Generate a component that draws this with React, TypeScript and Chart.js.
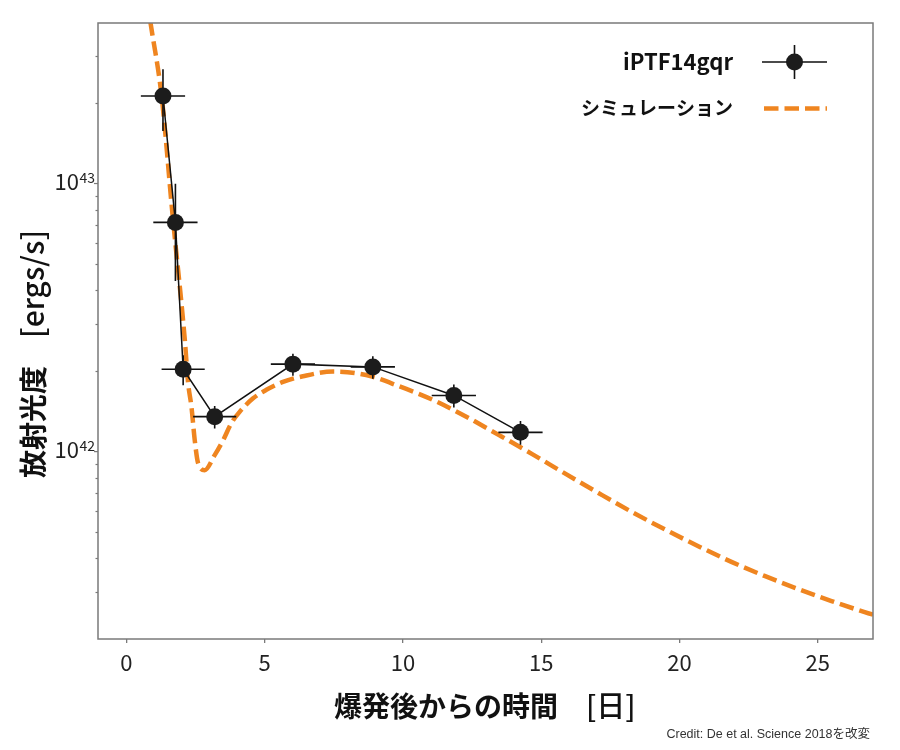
import React, { useEffect, useRef } from 'react';
import { Chart, registerables } from 'chart.js';

Chart.register(...registerables);

// Observed luminosity of iPTF14gqr
const obsDays = [1.32, 1.77, 2.05, 3.19, 6.02, 8.91, 11.84, 14.25];
const obsDayErr = [0.8, 0.8, 0.78, 0.78, 0.8, 0.8, 0.8, 0.8];
const obsLum = [2.12e43, 7.16e42, 2.03e42, 1.35e42, 2.12e42, 2.07e42, 1.62e42, 1.18e42];
const obsLumErr = [5.5e42, 2.83e42, 0.26e42, 0.13e42, 0.2e42, 0.2e42, 0.16e42, 0.12e42];

// Simulation curve
const simDays = [0.75, 0.87, 1.27, 1.66, 2.11, 2.23, 2.35, 2.47, 2.59, 2.83, 3.19, 3.49, 3.8, 4.1, 4.58, 5.06, 5.66, 6.38, 7.47, 8.67, 9.88, 11.08, 12.29, 13.49, 14.69, 15.9, 17.1, 18.3, 19.5, 20.7, 21.9, 23.1, 24.3, 25.5, 26.7, 27.2];
const simLum = [4.8e43, 3.97e43, 2.12e43, 7.76e42, 2.61e42, 1.8e42, 1.47e42, 1.1e42, 9.06e41, 8.53e41, 9.7e41, 1.1e42, 1.28e42, 1.41e42, 1.58e42, 1.7e42, 1.82e42, 1.91e42, 1.99e42, 1.93e42, 1.75e42, 1.56e42, 1.35e42, 1.15e42, 9.77e41, 8.24e41, 6.98e41, 5.94e41, 5.11e41, 4.43e41, 3.87e41, 3.43e41, 3.07e41, 2.77e41, 2.52e41, 2.43e41];

// Axes
const xMin = -1.03;
const xMax = 27;
const xStep = 5;
const yMin = 2.0e41;
const yMax = 3.97e43;
const yMajorTicks = [1e42, 1e43];
const yMajorExp = ['42', '43'];
const yMinorTicks = [3e41, 4e41, 5e41, 6e41, 7e41, 8e41, 9e41, 2e42, 3e42, 4e42, 5e42, 6e42, 7e42, 8e42, 9e42, 2e43, 3e43];

// Text
const obsLabel = 'iPTF14gqr';
const simLabel = 'シミュレーション';
const xTitleJa = '爆発後からの時間';
const xTitleUnit = '[日]';
const yTitleJa = '放射光度';
const yTitleUnit = '[ergs/s]';
const creditText = 'Credit: De et al. Science 2018を改変';

const ORANGE = '#ef8520';
const DARK = '#1c1c1c';
const FRAME = '#7a7a7a';
const JP = "'Noto Sans CJK JP', 'Noto Sans', sans-serif";

const customPlugin = {
  id: 'customDraw',
  beforeDatasetDraw(chart: any, args: any) {
    if (args.index !== 0) return;
    const { ctx } = chart;
    const x = chart.scales.x;
    const y = chart.scales.y;
    ctx.save();
    ctx.strokeStyle = '#111';
    ctx.lineWidth = 1.6;
    obsDays.forEach((d, i) => {
      const px = x.getPixelForValue(d);
      const py = y.getPixelForValue(obsLum[i]);
      const x0 = x.getPixelForValue(d - obsDayErr[i]);
      const x1 = x.getPixelForValue(d + obsDayErr[i]);
      const y0 = y.getPixelForValue(obsLum[i] - obsLumErr[i]);
      const y1 = y.getPixelForValue(obsLum[i] + obsLumErr[i]);
      ctx.beginPath();
      ctx.moveTo(x0, py);
      ctx.lineTo(x1, py);
      ctx.moveTo(px, y0);
      ctx.lineTo(px, y1);
      ctx.stroke();
    });
    ctx.restore();
  },
  afterDraw(chart: any) {
    const { ctx, chartArea } = chart;
    const y = chart.scales.y;
    const { left, top, right, bottom } = chartArea;
    ctx.save();
    // frame
    ctx.strokeStyle = FRAME;
    ctx.lineWidth = 1.5;
    ctx.strokeRect(left, top, right - left, bottom - top);

    // y ticks
    ctx.lineWidth = 1.2;
    yMinorTicks.forEach((v) => {
      const py = Math.round(y.getPixelForValue(v)) + 0.5;
      ctx.beginPath();
      ctx.moveTo(left, py);
      ctx.lineTo(left - 2.5, py);
      ctx.stroke();
    });
    yMajorTicks.forEach((v, i) => {
      const py = y.getPixelForValue(v);
      ctx.beginPath();
      ctx.moveTo(left, py);
      ctx.lineTo(left - 4, py);
      ctx.stroke();
      // label 10^n
      ctx.fillStyle = '#222';
      ctx.textAlign = 'right';
      ctx.textBaseline = 'alphabetic';
      ctx.font = `14px ${JP}`;
      const supW = ctx.measureText(yMajorExp[i]).width;
      ctx.fillText(yMajorExp[i], left - 3, py - 1);
      ctx.font = `22px ${JP}`;
      ctx.fillText('10', left - 3 - supW - 0.5, py + 6);
    });

    // x title
    ctx.fillStyle = '#111';
    ctx.textBaseline = 'middle';
    ctx.textAlign = 'left';
    ctx.font = `bold 28px ${JP}`;
    const xJaW = ctx.measureText(xTitleJa + '\u3000').width;
    ctx.fillText(xTitleJa + '\u3000', 334, 706);
    ctx.font = `500 29px ${JP}`;
    ctx.fillText(xTitleUnit, 334 + xJaW, 706);

    // y title
    ctx.save();
    ctx.translate(33, 478);
    ctx.rotate(-Math.PI / 2);
    ctx.font = `bold 28px ${JP}`;
    const yJaW = ctx.measureText(yTitleJa + '\u3000').width;
    ctx.fillText(yTitleJa + '\u3000', 0, 0);
    ctx.font = `500 30px ${JP}`;
    ctx.fillText(yTitleUnit, yJaW, 0);
    ctx.restore();

    // legend
    ctx.textAlign = 'right';
    ctx.textBaseline = 'middle';
    ctx.fillStyle = '#111';
    ctx.font = `bold 22px ${JP}`;
    ctx.fillText(obsLabel, 733, 62);
    ctx.font = `bold 19px ${JP}`;
    ctx.fillText(simLabel, 733, 108);
    ctx.strokeStyle = '#111';
    ctx.lineWidth = 1.6;
    ctx.beginPath();
    ctx.moveTo(762, 62);
    ctx.lineTo(827, 62);
    ctx.moveTo(794.5, 45);
    ctx.lineTo(794.5, 79);
    ctx.stroke();
    ctx.fillStyle = DARK;
    ctx.beginPath();
    ctx.arc(794.5, 62, 8.5, 0, Math.PI * 2);
    ctx.fill();
    ctx.strokeStyle = ORANGE;
    ctx.lineWidth = 4.5;
    ctx.setLineDash([14.5, 6]);
    ctx.beginPath();
    ctx.moveTo(764, 108.5);
    ctx.lineTo(827, 108.5);
    ctx.stroke();
    ctx.setLineDash([]);

    // credit
    ctx.fillStyle = '#333';
    ctx.font = `12.5px 'Liberation Sans', ${JP}`;
    ctx.textAlign = 'right';
    ctx.textBaseline = 'middle';
    ctx.fillText(creditText, 870, 735);
    ctx.restore();
  },
};

export default function App() {
  const ref = useRef<HTMLCanvasElement>(null);
  useEffect(() => {
    const canvas = ref.current;
    if (!canvas) return;
    const chart = new Chart(canvas, {
      type: 'line',
      data: {
        datasets: [
          {
            label: obsLabel,
            data: obsDays.map((d, i) => ({ x: d, y: obsLum[i] })),
            borderColor: '#111',
            borderWidth: 1.5,
            pointRadius: 8.5,
            pointBackgroundColor: DARK,
            pointBorderColor: DARK,
            pointBorderWidth: 0,
            tension: 0,
            fill: false,
            order: 1,
          },
          {
            label: simLabel,
            data: simDays.map((d, i) => ({ x: d, y: simLum[i] })),
            borderColor: ORANGE,
            borderWidth: 4.5,
            borderDash: [14.5, 6],
            pointRadius: 0,
            cubicInterpolationMode: 'monotone',
            fill: false,
            order: 2,
          },
        ],
      },
      options: {
        animation: false,
        responsive: false,
        devicePixelRatio: 1,
        events: [],
        layout: { padding: { left: 98, top: 23, right: 27, bottom: 0 } },
        plugins: {
          legend: { display: false },
          tooltip: { enabled: false },
        },
        scales: {
          x: {
            type: 'linear',
            min: xMin,
            max: xMax,
            border: { display: false },
            grid: {
              display: true,
              drawOnChartArea: false,
              drawTicks: true,
              tickLength: 4,
              color: FRAME,
              lineWidth: 1.3,
            },
            ticks: {
              stepSize: xStep,
              includeBounds: false,
              padding: 6,
              color: '#222',
              font: { size: 22, family: JP },
              callback: (v: any) => String(v),
            },
            afterFit: (s: any) => {
              s.height = 111;
            },
          },
          y: {
            type: 'logarithmic',
            min: yMin,
            max: yMax,
            display: false,
          },
        },
      } as any,
      plugins: [customPlugin],
    });
    return () => chart.destroy();
  }, []);
  return (
    <div style={{ position: 'absolute', left: 0, top: 0, width: 900, height: 750, background: '#fff' }}>
      <canvas ref={ref} width={900} height={750} style={{ display: 'block', width: 900, height: 750 }} />
    </div>
  );
}
